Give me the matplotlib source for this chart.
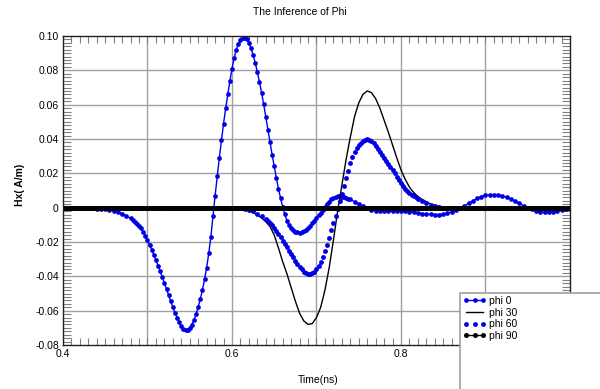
import numpy as np
import matplotlib
matplotlib.use("Agg")
import matplotlib.pyplot as plt
from matplotlib.patches import Rectangle
from matplotlib.ticker import MultipleLocator

plt.rcParams['font.family'] = ['Liberation Sans', 'DejaVu Sans']

# sample times (ns): finer steps where the curves are steep
t_phi0 = np.round(np.concatenate([np.arange(0.400, 0.4801, 0.005),
                                  np.arange(0.4825, 0.7401, 0.0025),
                                  np.arange(0.745, 1.0001, 0.005)]), 4)
t_phi30 = np.round(np.arange(0.60, 0.8601, 0.005), 3)
t_phi60 = np.round(np.concatenate([np.arange(0.600, 0.6401, 0.005),
                                   np.arange(0.6425, 0.8201, 0.0025),
                                   np.arange(0.825, 0.8601, 0.005)]), 4)
t_phi90 = np.round(np.arange(0.40, 1.0001, 0.002), 3)

# values
phi0 = [0, 0, 0, 0, 0, 0, -0.0002, -0.0004, -0.0005, -0.0007,
        -0.0010, -0.0013, -0.0018, -0.0026, -0.0036, -0.0048, -0.0063,
        # 0.4825 .. 0.740 every 0.0025
        -0.0072, -0.0082, -0.0093, -0.0105, -0.0121, -0.0140, -0.0164, -0.0190,
        -0.0217, -0.0245, -0.0275, -0.0305, -0.0337, -0.0370, -0.0405, -0.0440,
        -0.0475, -0.0510, -0.0545, -0.0580, -0.0612, -0.0640, -0.0667, -0.0690,
        -0.0704, -0.0712, -0.0710, -0.0700, -0.0681, -0.0655, -0.0620, -0.0578,
        -0.0532, -0.0480, -0.0418, -0.0350, -0.0265, -0.0170, -0.0050, 0.0070,
        0.0182, 0.0290, 0.0392, 0.0490, 0.0578, 0.0660, 0.0738, 0.0810,
        0.0870, 0.0920, 0.0952, 0.0975, 0.0987, 0.0990, 0.0980, 0.0960,
        0.0928, 0.0890, 0.0843, 0.0790, 0.0732, 0.0670, 0.0602, 0.0530,
        0.0455, 0.0380, 0.0308, 0.0240, 0.0173, 0.0110, 0.0055, 0.0005,
        -0.0038, -0.0075, -0.0100, -0.0120, -0.0132, -0.0140, -0.0144, -0.0145,
        -0.0143, -0.0138, -0.0129, -0.0118, -0.0105, -0.0090, -0.0075, -0.0060,
        -0.0045, -0.0030, -0.0012, 0.0005, 0.0020, 0.0035, 0.0048, 0.0058,
        0.0063, 0.0066, 0.0066, 0.0064, 0.0062, 0.0058, 0.0053, 0.0048,
        # 0.745 .. 1.000 every 0.005
        0.0035, 0.0020, 0.0008, -0.0003, -0.0012, -0.0018, -0.0021, -0.0022, -0.0022, -0.0021,
        -0.0020, -0.0020, -0.0021, -0.0023, -0.0026, -0.0030, -0.0034, -0.0037, -0.0039, -0.0040,
        -0.0040, -0.0038, -0.0033, -0.0025, -0.0015, -0.0003, 0.0010, 0.0025, 0.0040, 0.0054,
        0.0065, 0.0072, 0.0075, 0.0075, 0.0073, 0.0068, 0.0060, 0.0050, 0.0038, 0.0025,
        0.0012, 0.0000, -0.0010, -0.0019, -0.0025, -0.0028, -0.0028, -0.0025, -0.0019, -0.0012,
        -0.0005, 0.0]

phi30 = [0, 0, -0.0003, -0.0010, -0.0018, -0.0028, -0.0042, -0.0060, -0.0082, -0.0110,
         -0.0160, -0.0235, -0.0315, -0.0385, -0.0465, -0.0545, -0.0615, -0.0660, -0.0680, -0.0675,
         -0.0640, -0.0580, -0.0480, -0.0350, -0.0190, -0.0020, 0.0130, 0.0280, 0.0410, 0.0530,
         0.0610, 0.0660, 0.0680, 0.0670, 0.0635, 0.0580, 0.0510, 0.0440, 0.0365, 0.0290,
         0.0220, 0.0165, 0.0120, 0.0088, 0.0065, 0.0048, 0.0035, 0.0022, 0.0012, 0.0005,
         0.0, 0.0, 0.0]

phi60 = [0, 0, -0.0002, -0.0006, -0.0012, -0.0022, -0.0035, -0.0050, -0.0068,
         # 0.6425 .. 0.820 every 0.0025
         -0.0078, -0.0090, -0.0103, -0.0118, -0.0134, -0.0152, -0.0172, -0.0192,
         -0.0212, -0.0232, -0.0251, -0.0270, -0.0290, -0.0310, -0.0328, -0.0345,
         -0.0360, -0.0372, -0.0381, -0.0387, -0.0387, -0.0382, -0.0373, -0.0360,
         -0.0341, -0.0318, -0.0289, -0.0255, -0.0217, -0.0175, -0.0133, -0.0090,
         -0.0048, -0.0005, 0.0037, 0.0080, 0.0125, 0.0170, 0.0215, 0.0260,
         0.0295, 0.0325, 0.0347, 0.0365, 0.0379, 0.0390, 0.0396, 0.0398,
         0.0396, 0.0390, 0.0378, 0.0362, 0.0344, 0.0325, 0.0307, 0.0290,
         0.0272, 0.0255, 0.0238, 0.0220, 0.0200, 0.0180, 0.0162, 0.0145,
         0.0127, 0.0110, 0.0097, 0.0085, 0.0076, 0.0068, 0.0060, 0.0052,
         # 0.825 .. 0.860
         0.0040, 0.0030, 0.0018, 0.0008, 0.0003, 0.0, 0.0, 0.0]

phi90 = [0.0] * len(t_phi90)

ytick_vals = [-0.08, -0.06, -0.04, -0.02, 0, 0.02, 0.04, 0.06, 0.08, 0.10]
ytick_labels = ['-0.08', '-0.06', '-0.04', '-0.02', '0', '0.02', '0.04', '0.06', '0.08', '0.10']
xtick_vals = [0.4, 0.6, 0.8, 1.0]
xtick_labels = ['0.4', '0.6', '0.8', '1']

blue = '#0000e6'
fs = 7.5

fig = plt.figure(figsize=(6.0, 3.89), dpi=100)
ax = fig.add_axes([63 / 600, 1 - 345 / 389, (570 - 63) / 600, (345 - 36) / 389])

l0, = ax.plot(t_phi0, phi0, color=blue, lw=1.0, marker='o', ms=3.4, mew=0, label='phi 0')
l30, = ax.plot(t_phi30, phi30, color='black', lw=1.0, label='phi 30')
l60, = ax.plot(t_phi60, phi60, color=blue, lw=0, marker='o', ms=3.5, mew=0, label='phi 60')
l90, = ax.plot(t_phi90, phi90, color='black', lw=1.0, marker='o', ms=3.6, mew=0,
               markevery=1, label='phi 90')

ax.set_xlim(0.4, 1.0)
ax.set_ylim(-0.08, 0.10)
ax.set_xticks(xtick_vals)
ax.set_xticklabels(xtick_labels, fontsize=fs)
ax.set_yticks(ytick_vals)
ax.set_yticklabels(ytick_labels, fontsize=fs)
ax.xaxis.set_minor_locator(MultipleLocator(0.01))
ax.yaxis.set_minor_locator(MultipleLocator(0.002))
ax.tick_params(axis='both', which='both', direction='in', top=True, right=True, color='#808080')
ax.tick_params(axis='both', which='major', length=0, pad=3)
ax.tick_params(axis='x', which='minor', length=5, width=0.8)
ax.tick_params(axis='y', which='minor', length=6, width=0.8)

for v in [0.5, 0.6, 0.7, 0.8, 0.9]:
    ax.axvline(v, color='#a0a0a0', lw=1.0, zorder=0)
for v in ytick_vals[1:-1]:
    ax.axhline(v, color='#a0a0a0', lw=1.0, zorder=0)

for s in ax.spines.values():
    s.set_color('#202020')
    s.set_linewidth(1.0)

fig.text(0.5, 1 - 12 / 389, 'The Inference of Phi', ha='center', va='center', fontsize=fs)
fig.text(318 / 600, 1 - 380 / 389, 'Time(ns)', ha='center', va='center', fontsize=fs)
fig.text(20 / 600, 1 - 185 / 389, 'Hx( A/m)', ha='center', va='center', rotation=90,
         fontsize=fs, fontweight='bold')

# legend box sticking out of the figure corner
fig.patches.append(Rectangle((460 / 600, -0.1), 0.5, 0.1 + (389 - 293) / 389,
                             transform=fig.transFigure, facecolor='white',
                             edgecolor='#a0a0a0', lw=1.2, zorder=3))
fig.legend(handles=[l0, l30, l60, l90], loc='upper left',
           bbox_to_anchor=(461 / 600, 1 - 294 / 389), frameon=False, numpoints=3,
           fontsize=fs, handlelength=2.2, handletextpad=0.3, labelspacing=0.15,
           borderpad=0.2, borderaxespad=0)

fig.savefig('out.png', dpi=100)
